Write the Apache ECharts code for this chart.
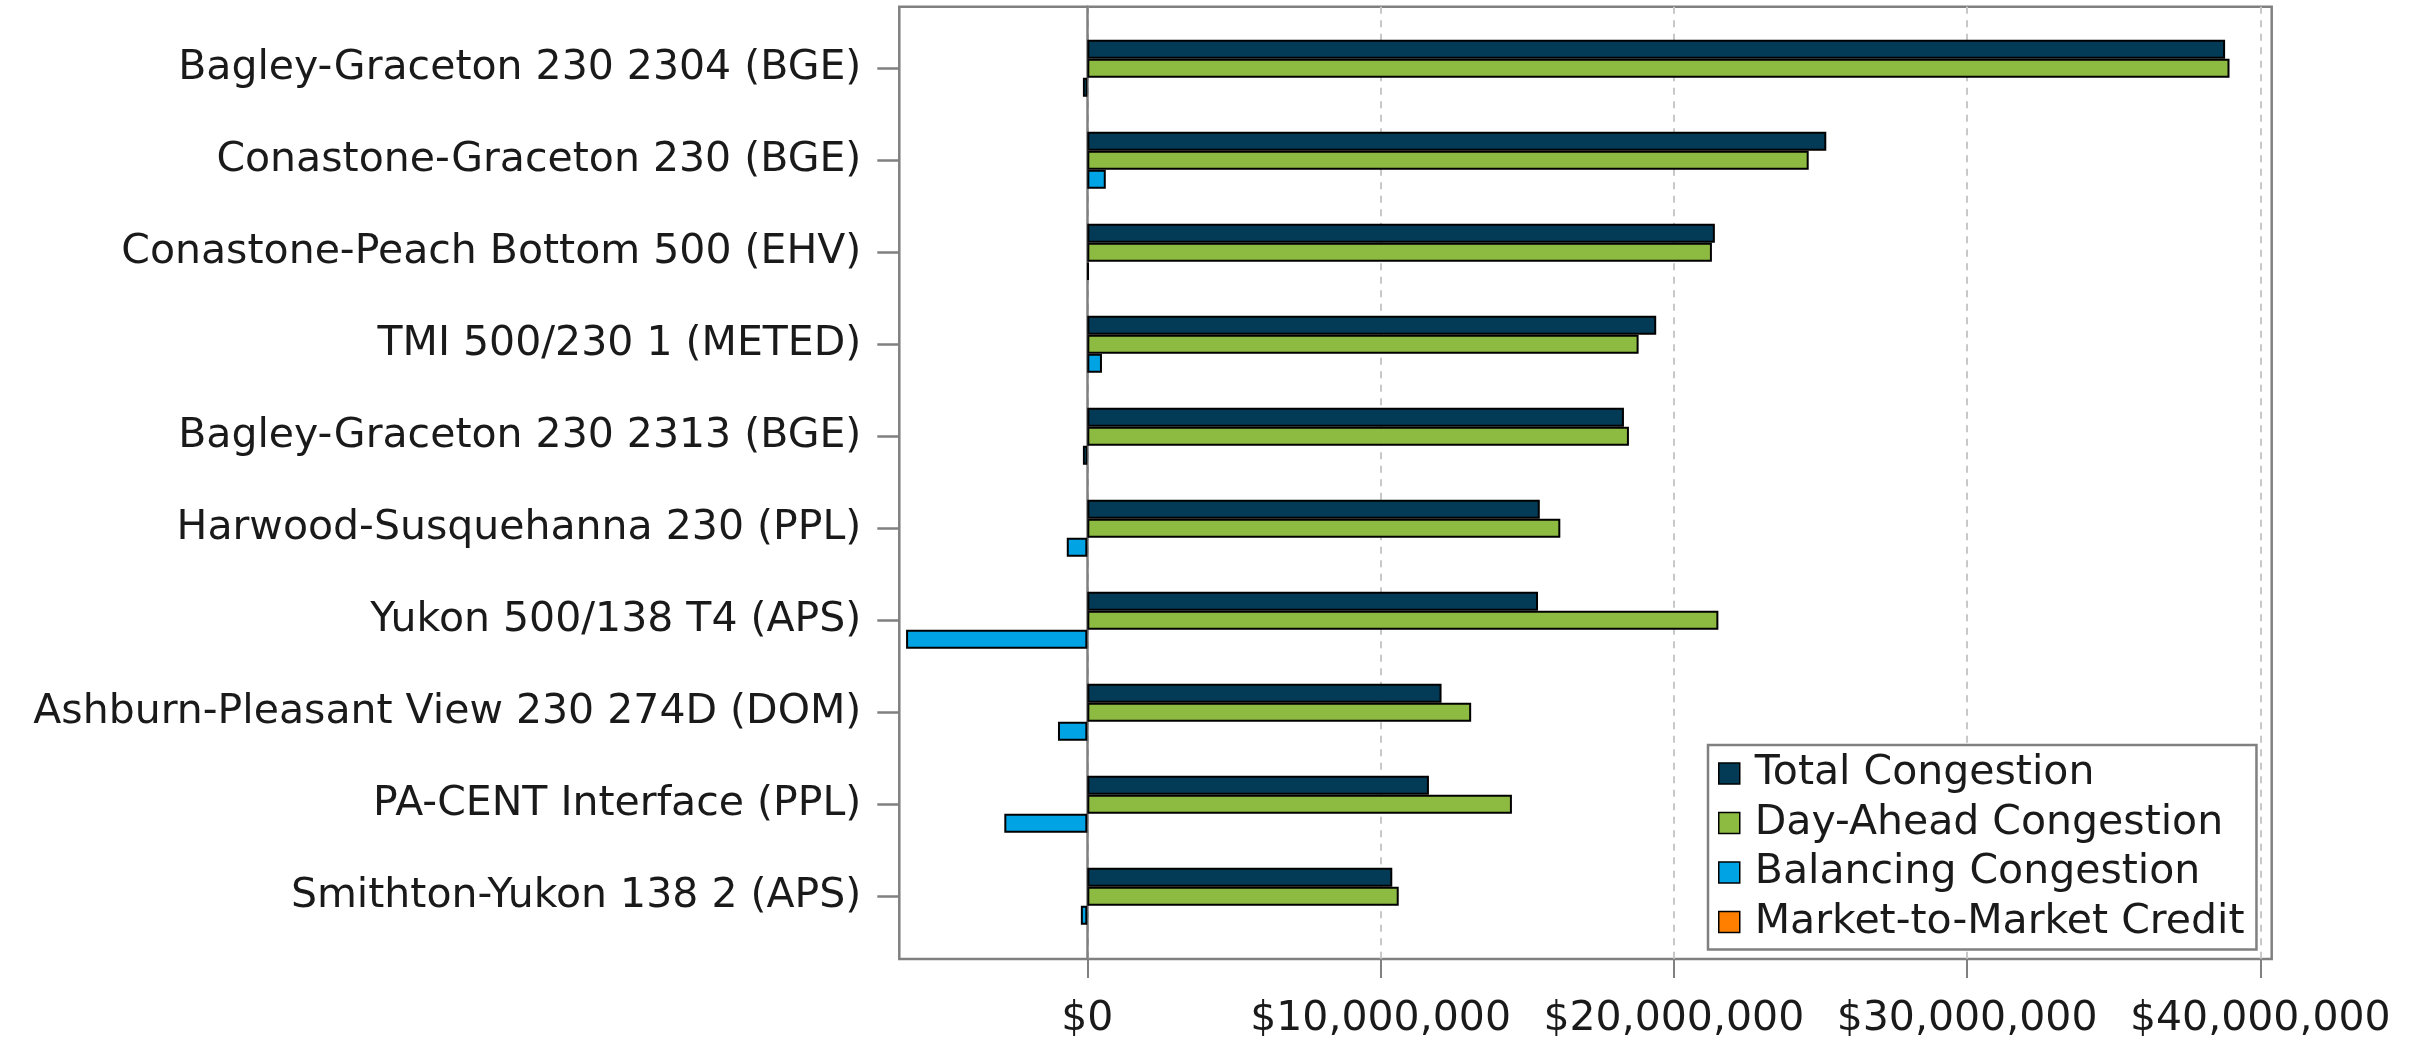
<!DOCTYPE html>
<html><head><meta charset="utf-8">
<script src="https://cdn.jsdelivr.net/npm/echarts@6/dist/echarts.min.js"></script>
<style>html,body{margin:0;padding:0;background:#fff}#chart{width:2425px;height:1041px}</style>
</head><body><div id="chart"></div>
<script>
const categories = [
  'Bagley-Graceton 230 2304 (BGE)',
  'Conastone-Graceton 230 (BGE)',
  'Conastone-Peach Bottom 500 (EHV)',
  'TMI 500/230 1 (METED)',
  'Bagley-Graceton 230 2313 (BGE)',
  'Harwood-Susquehanna 230 (PPL)',
  'Yukon 500/138 T4 (APS)',
  'Ashburn-Pleasant View 230 274D (DOM)',
  'PA-CENT Interface (PPL)',
  'Smithton-Yukon 138 2 (APS)'
];
const totalCongestion = [38800000, 25200000, 21400000, 19400000, 18300000, 15430000, 15370000, 12080000, 11650000, 10400000];
const dayAheadCongestion = [38950000, 24600000, 21300000, 18800000, 18470000, 16130000, 21520000, 13090000, 14480000, 10620000];
const balancingCongestion = [-150000, 630000, 50000, 500000, -150000, -700000, -6180000, -1000000, -2830000, -220000];
const marketToMarketCredit = [0, 0, 0, 0, 0, 0, 0, 0, 0, 0];
const xTickValues = [0, 10000000, 20000000, 30000000, 40000000];
const seriesNames = ['Total Congestion', 'Day-Ahead Congestion', 'Balancing Congestion', 'Market-to-Market Credit'];
const seriesColors = ['#033a56', '#8dbb41', '#00a3e3', '#ff8000'];

const X_MIN = -6411000, X_MAX = 40389000;
const FONT = 'DejaVu Sans';
const GRAY = '#808080';
const FS = 41;

const chart = echarts.init(document.getElementById('chart'), null, {renderer: 'canvas'});
const fmt = v => '$' + Number(v).toLocaleString('en-US');
const barBase = {type: 'bar', xAxisIndex: 1, yAxisIndex: 1, barWidth: 19, barGap: '0%',
  itemStyle: {borderColor: '#000', borderWidth: 2}};
const valueSets = [totalCongestion, dayAheadCongestion, balancingCongestion, marketToMarketCredit];

const series = [Object.assign({}, barBase, {name: '_spacer', data: categories.map(() => null), silent: true})];
seriesNames.forEach((n, i) => {
  series.push(Object.assign({}, barBase, {
    name: n,
    itemStyle: {color: seriesColors[i], borderColor: '#000', borderWidth: 2},
    data: valueSets[i].map(v => v === 0 ? {value: v, itemStyle: {borderWidth: 0}} : v)
  }));
});

chart.setOption({
  animation: false,
  backgroundColor: '#fff',
  textStyle: {fontFamily: FONT},
  grid: [
    {left: 899.3, right: 153.3, top: 6.7, bottom: 82, show: true, borderColor: GRAY, borderWidth: 2.5,
     backgroundColor: 'transparent', outerBoundsMode: 'none', containLabel: false},
    {left: 899.3, right: 153.3, top: 22.3, bottom: 98.7, outerBoundsMode: 'none', containLabel: false}
  ],
  xAxis: [
    {type: 'value', gridIndex: 0, min: X_MIN, max: X_MAX,
     axisLine: {show: false, onZero: false},
     axisTick: {show: true, length: 19, customValues: xTickValues, lineStyle: {color: GRAY, width: 2}},
     axisLabel: {customValues: xTickValues, formatter: fmt, fontSize: FS, fontFamily: FONT, color: '#1a1a1a', margin: 40},
     splitLine: {show: true, lineStyle: {color: '#c8c8c8', width: 2, type: [7, 6.5]}}},
    {type: 'value', gridIndex: 1, min: X_MIN, max: X_MAX, show: false, splitLine: {show: false}}
  ],
  yAxis: [
    {type: 'category', gridIndex: 0, data: categories,
     axisLine: {show: true, onZero: true, lineStyle: {color: GRAY, width: 2.5}},
     axisTick: {show: false}, axisLabel: {show: false}, splitLine: {show: false}},
    {type: 'category', gridIndex: 1, data: categories, inverse: true,
     axisLine: {show: false, onZero: false},
     axisTick: {show: true, length: 22, alignWithLabel: true, lineStyle: {color: GRAY, width: 2.5}},
     axisLabel: {fontSize: FS, fontFamily: FONT, color: '#1a1a1a', margin: 38},
     splitLine: {show: false}}
  ],
  legend: {
    data: seriesNames, orient: 'vertical', left: 1708, top: 745,
    backgroundColor: '#fff', borderColor: GRAY, borderWidth: 2.5,
    padding: [8, 12, 7, 10], itemGap: 8.5, itemWidth: 21, itemHeight: 21, icon: 'rect',
    itemStyle: {borderColor: '#000', borderWidth: 1.5},
    textStyle: {fontSize: FS, fontFamily: FONT, color: '#1a1a1a', padding: [0, 0, 0, 10]}
  },
  series: series
});
</script></body></html>
